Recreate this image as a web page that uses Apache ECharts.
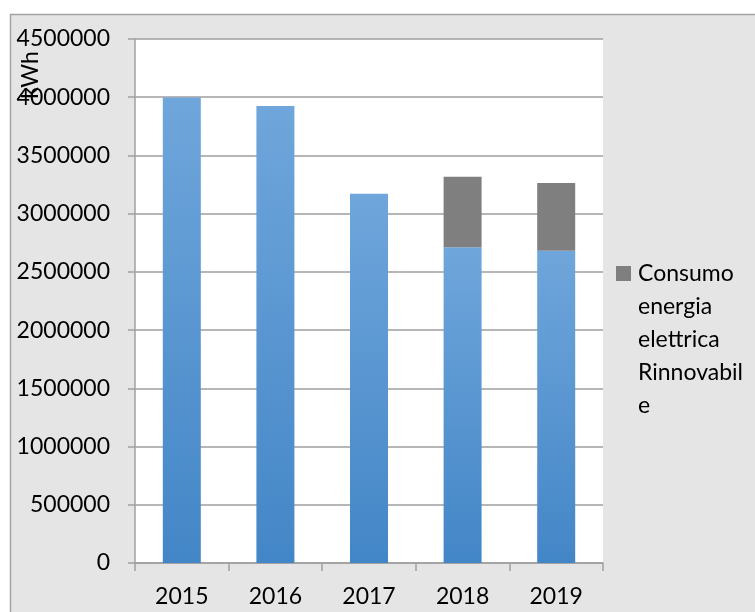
<!DOCTYPE html>
<html>
<head>
<meta charset="utf-8">
<title>Consumo energia elettrica</title>
<script src="https://cdn.jsdelivr.net/npm/echarts@6/dist/echarts.min.js"></script>
<style>
  html, body { margin: 0; padding: 0; background: #fff; }
  #chart { width: 755px; height: 612px; }
</style>
</head>
<body>
<div id="chart"></div>
<script>
// Annual electricity consumption (kWh), split into conventional and renewable share
const years = ['2015', '2016', '2017', '2018', '2019'];
const consumoTotaleBase = [3998000, 3925000, 3170000, 2711000, 2682000];
const consumoRinnovabile = [0, 0, 0, 606000, 581000];
const yTicks = { min: 0, max: 4500000, step: 500000 };

const baseName = 'Consumo energia elettrica';
const renewName = 'Consumo energia elettrica Rinnovabile';
const FONT = 'Lato';

// Legend text wraps onto 5 lines of 33px; the icon is a tall path whose
// only filled part is a square level with the first line.
const LEGEND_LINE = 33;
const LEGEND_LINES = 5;
const legendBlock = LEGEND_LINE * LEGEND_LINES;
const legendIcon = 'path://M0,0L0,0M0,' + legendBlock + 'L0,' + legendBlock +
  'M0,9h15v15h-15z';

const chart = echarts.init(document.getElementById('chart'), null, { renderer: 'canvas' });

chart.setOption({
  backgroundColor: '#ffffff',
  animation: false,
  textStyle: { fontFamily: FONT },
  graphic: [
    {
      type: 'rect',
      z: -100,
      shape: { x: 10.5, y: 14.5, width: 800, height: 700 },
      style: { fill: '#e5e5e5', stroke: '#a3a3a3', lineWidth: 1.5 }
    },
    {
      type: 'text',
      x: 31,
      y: 75,
      rotation: Math.PI / 2,
      style: {
        text: 'kWh',
        font: '23px ' + FONT,
        fill: '#000',
        align: 'center',
        verticalAlign: 'middle'
      }
    }
  ],
  grid: {
    left: 135,
    top: 39,
    right: 152,
    bottom: 49,
    show: true,
    backgroundColor: '#ffffff',
    borderWidth: 0
  },
  legend: {
    data: [{ name: renewName, icon: legendIcon }],
    left: 616,
    top: 257,
    orient: 'vertical',
    padding: 0,
    itemWidth: 15,
    itemHeight: legendBlock,
    formatter: () => 'Consumo\nenergia\nelettrica\nRinnovabil\ne',
    textStyle: {
      fontFamily: FONT,
      fontSize: 23,
      lineHeight: LEGEND_LINE,
      color: '#000',
      padding: [0, 0, 0, 2]
    }
  },
  xAxis: {
    type: 'category',
    data: years,
    boundaryGap: true,
    axisLine: { lineStyle: { color: '#a0a0a0', width: 1.5 } },
    axisTick: { show: true, alignWithLabel: false, length: 8, lineStyle: { color: '#a0a0a0', width: 1.5 } },
    axisLabel: { fontFamily: FONT, fontSize: 23, color: '#000', margin: 22 }
  },
  yAxis: {
    type: 'value',
    min: yTicks.min,
    max: yTicks.max,
    interval: yTicks.step,
    axisLine: { show: true, lineStyle: { color: '#a0a0a0', width: 1.5 } },
    axisTick: { show: true, length: 7, lineStyle: { color: '#a0a0a0', width: 1.5 } },
    axisLabel: {
      fontFamily: FONT, fontSize: 23, color: '#000', margin: 25,
      formatter: v => String(v)
    },
    splitLine: { show: true, lineStyle: { color: '#9e9e9e', width: 1.5 } }
  },
  series: [
    {
      name: baseName,
      type: 'bar',
      stack: 'consumo',
      barWidth: 38,
      data: consumoTotaleBase,
      itemStyle: {
        color: new echarts.graphic.LinearGradient(0, 0, 0, 1, [
          { offset: 0, color: '#6fa6db' },
          { offset: 1, color: '#4386c7' }
        ])
      }
    },
    {
      name: renewName,
      type: 'bar',
      stack: 'consumo',
      barWidth: 38,
      data: consumoRinnovabile,
      itemStyle: { color: '#7f7f7f' }
    }
  ]
});
</script>
</body>
</html>
